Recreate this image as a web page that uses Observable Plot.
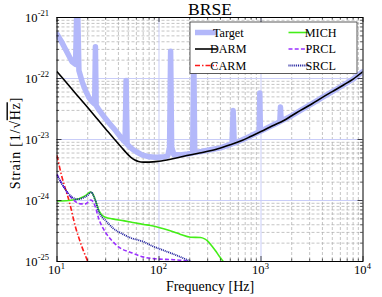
<!DOCTYPE html>
<html><head><meta charset="utf-8">
<script src="https://cdn.jsdelivr.net/npm/d3@7"></script>
<script src="https://cdn.jsdelivr.net/npm/@observablehq/plot@0.6"></script>
<style>
html,body{margin:0;padding:0;background:#fff;}
#chart{width:382px;height:297px;overflow:hidden;}
</style></head><body><div id="chart"></div>
<script>
// ---- data (frequency in Hz, strain in 1/sqrt(Hz)) ----
const targetF = [10, 11, 12, 13, 14, 15.2, 15.8, 16.4, 17.7, 19, 20.5, 22, 23.4, 23.8, 24.2, 26, 29.9, 33, 37.5, 40, 43.5, 46.5, 47.6, 48.7, 51, 54.6, 60, 68, 80, 92, 110, 122, 127, 130, 133, 140, 160, 190, 214, 219, 224, 260, 320, 400, 520, 533, 546, 650, 800, 960, 973, 986, 1200, 1530, 1552, 1575, 2000, 2440, 3200, 4000, 5000, 6500, 8000, 10000];
const targetS = [5.3e-22, 4.1e-22, 3.1e-22, 2.4e-22, 1.9e-22, 1.7e-22, 3e-21, 1.35e-22, 8.7e-23, 6.4e-23, 4.9e-23, 4.2e-23, 3.8e-23, 3.3e-22, 3.6e-23, 3.0e-23, 2.2e-23, 1.8e-23, 1.4e-23, 1.22e-23, 1.02e-23, 9e-24, 9.3e-23, 8.4e-24, 7.7e-24, 7.0e-24, 6.3e-24, 5.6e-24, 5.2e-24, 5.1e-24, 5.15e-24, 5.4e-24, 7.5e-24, 2.8e-22, 7.5e-24, 5.6e-24, 5.6e-24, 5.8e-24, 6.0e-24, 3e-22, 6.1e-24, 6.35e-24, 6.8e-24, 7.3e-24, 8.5e-24, 3e-23, 8.7e-24, 9.8e-24, 1.15e-23, 1.34e-23, 5.8e-23, 1.36e-23, 1.6e-23, 1.95e-23, 3.4e-23, 2.0e-23, 2.45e-23, 3.0e-23, 3.9e-23, 4.9e-23, 6.1e-23, 7.9e-23, 9.8e-23, 1.3e-22];

const darmF = [10, 12, 15, 20, 25, 30, 37.5, 43, 48, 53, 58, 63, 70, 80, 100, 130, 175, 250, 372, 500, 650, 800, 1000, 1300, 1675, 2000, 2440, 3200, 4000, 5000, 6500, 8000, 10000];
const darmS = [1.3e-22, 9.1e-23, 5.85e-23, 3.35e-23, 2.14e-23, 1.49e-23, 9.6e-24, 7.4e-24, 6.0e-24, 5.1e-24, 4.6e-24, 4.35e-24, 4.25e-24, 4.25e-24, 4.4e-24, 4.75e-24, 5.3e-24, 6.0e-24, 7.0e-24, 8.2e-24, 9.6e-24, 1.13e-23, 1.35e-23, 1.68e-23, 2.05e-23, 2.45e-23, 3.0e-23, 3.9e-23, 4.9e-23, 6.1e-23, 7.9e-23, 9.8e-23, 1.3e-22];

const carmF = [10, 11.2, 12, 13.1, 15.2, 17.6, 20, 21];
const carmS = [5.5e-24, 2.4e-24, 1.62e-24, 1.0e-24, 3.65e-25, 1.72e-25, 1.0e-25, 8e-26];

const michF = [10, 13, 16.4, 19, 21.3, 22.3, 23.5, 25.7, 27.5, 29.9, 35, 43.5, 52.5, 71, 82.6, 111, 140, 163, 204, 255, 280, 297, 330, 358, 390, 427, 460];
const michS = [9.8e-25, 1.0e-24, 1.07e-24, 1.2e-24, 1.38e-24, 1.3e-24, 1.07e-24, 6.9e-25, 5.8e-25, 5.3e-25, 5.0e-25, 4.7e-25, 4.45e-25, 4.05e-25, 3.9e-25, 3.45e-25, 3.05e-25, 2.78e-25, 2.5e-25, 2.48e-25, 2.35e-25, 2.2e-25, 1.8e-25, 1.5e-25, 1.22e-25, 1.0e-25, 8.5e-26];

const prclF = [10, 11.7, 14.1, 17, 19, 21.3, 22.3, 23.5, 25.7, 29.9, 35, 40.4, 54.6, 66, 71, 96, 140, 170, 196, 215];
const prclS = [2.7e-24, 1.65e-24, 1.07e-24, 8.8e-25, 8.8e-25, 1.02e-24, 9.8e-25, 8.3e-25, 5.0e-25, 3.0e-25, 2.15e-25, 1.72e-25, 1.38e-25, 1.22e-25, 1.18e-25, 1.1e-25, 1.07e-25, 1.04e-25, 1.0e-25, 9.5e-26];

const srclF = [10, 11.7, 14.1, 16, 17, 19.8, 21.8, 22.8, 23.8, 25.7, 27.5, 29.9, 35.5, 43.5, 52.5, 71, 82.6, 111, 151, 180, 204, 225];
const srclS = [2.6e-24, 1.65e-24, 1.13e-24, 1.05e-24, 1.07e-24, 1.2e-24, 1.37e-24, 1.2e-24, 1.0e-24, 6.5e-25, 5.4e-25, 4.7e-25, 3.5e-25, 2.85e-25, 2.45e-25, 2.1e-25, 1.85e-25, 1.52e-25, 1.25e-25, 1.1e-25, 1.0e-25, 9e-26];

const seriesNames = ["Target", "DARM", "CARM", "MICH", "PRCL", "SRCL"];
const xTicks = [10, 100, 1000, 10000];
const xTickExp = ["1", "2", "3", "4"];
const yTicks = [1e-25, 1e-24, 1e-23, 1e-22, 1e-21];
const yTickExp = ["-25", "-24", "-23", "-22", "-21"];

// ---- styles ----
const FONT = "Liberation Serif";
const styles = {
  Target: {stroke: "#b3b8fa", strokeWidth: 5.5, strokeDasharray: null},
  DARM:   {stroke: "#000000", strokeWidth: 1.6, strokeDasharray: null},
  CARM:   {stroke: "#ff1a1a", strokeWidth: 1.6, strokeDasharray: "5,2,1.5,2"},
  MICH:   {stroke: "#44ee18", strokeWidth: 1.6, strokeDasharray: null},
  PRCL:   {stroke: "#9b30ff", strokeWidth: 1.6, strokeDasharray: "4,2.2"},
  SRCL:   {stroke: "#1c1c9c", strokeWidth: 1.8, strokeDasharray: "1,0.9"}
};
const dataBy = {
  Target: [targetF, targetS], DARM: [darmF, darmS], CARM: [carmF, carmS],
  MICH: [michF, michS], PRCL: [prclF, prclS], SRCL: [srclF, srclS]
};
const table = (F, S) => F.map((f, i) => ({f, s: S[i]}));

const W = 382, H = 297, ML = 56.5, MR = 19.5, MT = 17, MB = 36;
const PW = W - ML - MR, PH = H - MT - MB;

const minorX = []; for (const d of [10, 100, 1000]) for (let k = 2; k <= 9; k++) minorX.push(d * k);
const minorY = []; for (const d of [1e-25, 1e-24, 1e-23, 1e-22]) for (let k = 2; k <= 9; k++) minorY.push(d * k);

const lineMarks = seriesNames.map(name => {
  const st = styles[name];
  return Plot.line(table(...dataBy[name]), {
    x: "f", y: "s", stroke: st.stroke, strokeWidth: st.strokeWidth,
    strokeDasharray: st.strokeDasharray || undefined,
    strokeLinejoin: "round", strokeLinecap: name === "Target" ? "round" : "butt",
    curve: name === "Target" ? "linear" : "monotone-x", clip: true
  });
});

const plot = Plot.plot({
  width: W, height: H, marginLeft: ML, marginRight: MR, marginTop: MT, marginBottom: MB,
  style: {fontFamily: FONT, background: "white", overflow: "visible"},
  x: {type: "log", domain: [10, 1e4], axis: null},
  y: {type: "log", domain: [1e-25, 1e-21], axis: null},
  marks: [
    Plot.ruleX(minorX, {stroke: "#aaaaaa", strokeWidth: 0.7, strokeDasharray: "3,2"}),
    Plot.ruleY(minorY, {stroke: "#aaaaaa", strokeWidth: 0.7, strokeDasharray: "3,2"}),
    Plot.ruleX(xTicks.slice(1, 3), {stroke: "#c9cdf8", strokeWidth: 1}),
    Plot.ruleY(yTicks.slice(1, 4), {stroke: "#c9cdf8", strokeWidth: 1}),
    ...lineMarks,
    // inward ticks on all four sides
    Plot.tickX(minorX, {x: d => d, insetTop: PH - 2.5, stroke: "#000", strokeWidth: 0.6}),
    Plot.tickX(minorX, {x: d => d, insetBottom: PH - 2.5, stroke: "#000", strokeWidth: 0.6}),
    Plot.tickX(xTicks, {x: d => d, insetTop: PH - 5, stroke: "#000", strokeWidth: 0.7}),
    Plot.tickX(xTicks, {x: d => d, insetBottom: PH - 5, stroke: "#000", strokeWidth: 0.7}),
    Plot.tickY(minorY, {y: d => d, insetRight: PW - 2.5, stroke: "#000", strokeWidth: 0.6}),
    Plot.tickY(minorY, {y: d => d, insetLeft: PW - 2.5, stroke: "#000", strokeWidth: 0.6}),
    Plot.tickY(yTicks, {y: d => d, insetRight: PW - 5, stroke: "#000", strokeWidth: 0.7}),
    Plot.tickY(yTicks, {y: d => d, insetLeft: PW - 5, stroke: "#000", strokeWidth: 0.7}),
    Plot.frame({stroke: "#000", strokeWidth: 1}),
    // tick labels
    Plot.text(xTicks, {x: d => d, text: () => "10", frameAnchor: "bottom", textAnchor: "end", lineAnchor: "bottom", dx: 3.5, dy: 12.5, fontSize: 12.5, fill: "#000"}),
    Plot.text(xTicks, {x: d => d, text: (d, i) => xTickExp[i], frameAnchor: "bottom", textAnchor: "start", lineAnchor: "bottom", dx: 3.8, dy: 7.5, fontSize: 8.5, fill: "#000"}),
    Plot.text(yTicks, {y: d => d, text: () => "10", frameAnchor: "left", textAnchor: "end", lineAnchor: "bottom", dx: -19.5, dy: 4, fontSize: 12.5, fill: "#000"}),
    Plot.text(yTicks, {y: d => d, text: (d, i) => yTickExp[i], frameAnchor: "left", textAnchor: "start", lineAnchor: "bottom", dx: -19.3, dy: -1.5, fontSize: 8.5, fill: "#000"}),
    // axis title and chart title
    Plot.text(["Frequency [Hz]"], {frameAnchor: "bottom", text: d => d, lineAnchor: "bottom", dy: 29.5, fontSize: 14, fill: "#000", letterSpacing: "0.8px"}),
    Plot.text(["BRSE"], {frameAnchor: "top", text: d => d, lineAnchor: "bottom", dy: -2.5, fontSize: 17.5, fill: "#000"})
  ]
});

const svg = d3.select(plot);
// y-axis label with overline on Hz
const yl = svg.append("text")
  .attr("transform", `translate(19.5,${MT + PH / 2 + 4}) rotate(-90)`)
  .attr("text-anchor", "middle")
  .attr("font-family", FONT).attr("font-size", 14).attr("letter-spacing", "0.8px").attr("fill", "#000");
yl.append("tspan").text("Strain [1/√");
yl.append("tspan").style("text-decoration", "overline").text("Hz");
yl.append("tspan").text("]");

// legend
const lg = svg.append("g");
lg.append("rect").attr("x", 190).attr("y", 22).attr("width", 167).attr("height", 51.5)
  .attr("fill", "#fff").attr("stroke", "#333").attr("stroke-width", 0.8);
const rowsY = [32.5, 49, 65.5];
seriesNames.forEach((name, i) => {
  const col = Math.floor(i / 3), row = i % 3;
  const st = styles[name];
  const x0 = col === 0 ? 195 : 288.5, x1 = col === 0 ? 217 : 309;
  const tx = col === 0 ? 228.3 : 320.7;
  const y = rowsY[row];
  lg.append("line").attr("x1", x0).attr("x2", x1).attr("y1", y).attr("y2", y)
    .attr("stroke", st.stroke).attr("stroke-width", st.strokeWidth)
    .attr("stroke-dasharray", st.strokeDasharray);
  lg.append("text").attr("x", tx).attr("y", y + 4).attr("font-family", FONT)
    .attr("font-size", 12.2).attr("fill", "#000").text(name);
});

document.getElementById("chart").appendChild(plot);
</script></body></html>
